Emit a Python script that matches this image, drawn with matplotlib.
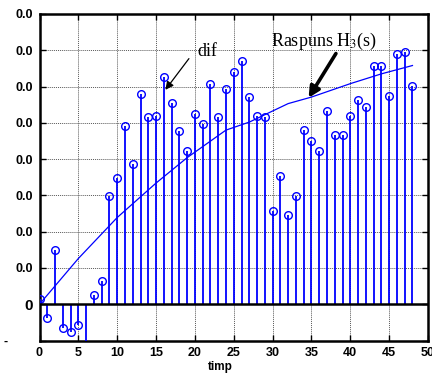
import matplotlib
matplotlib.use("Agg")
import matplotlib.pyplot as plt
from matplotlib.transforms import ScaledTranslation

# Data
k_values = list(range(49))
dif_values = [0.14, -0.38, 1.49, -0.65, -0.77, -0.58, -1.3, 0.26, 0.65, 2.97,
              3.48, 4.91, 3.87, 5.79, 5.16, 5.18, 6.25, 5.55, 4.77, 4.23,
              5.23, 4.97, 6.07, 5.16, 5.94, 6.39, 6.70, 5.70, 5.18, 5.16,
              2.57, 3.53, 2.47, 2.99, 4.81, 4.49, 4.23, 5.32, 4.66, 4.66,
              5.18, 5.64, 5.44, 6.57, 6.57, 5.73, 6.90, 6.94, 6.02]
resp_t = [0, 5, 10, 15, 19, 24, 27, 32, 35, 40, 44, 48]
resp_y = [0.0, 1.26, 2.39, 3.34, 4.04, 4.80, 5.02, 5.53, 5.71, 6.08, 6.35, 6.58]
xticks = [0, 5, 10, 15, 20, 25, 30, 35, 40, 45, 50]
yticks = [-1, 0, 1, 2, 3, 4, 5, 6, 7, 8]
ytick_labels = ["-", "0", "0.0", "0.0", "0.0", "0.0", "0.0", "0.0", "0.0", "0.0"]

fig = plt.figure(figsize=(4.32, 3.74), dpi=100)
ax = fig.add_axes([39.5/432, 1-340.5/374, (428-39.5)/432, (340.5-14)/374])

# stems
ax.vlines(k_values, 0, dif_values, color="blue", lw=1.3, zorder=3)
ax.plot(k_values, dif_values, ls="none", marker="o", ms=5.5, mfc="none",
        mec="blue", mew=1.0, zorder=4)
ax.axhline(0, color="black", lw=1.8, zorder=5)

# response curve
ax.plot(resp_t, resp_y, color="blue", lw=0.9, zorder=3)

ax.set_xlim(0, 50)
ax.set_ylim(-1, 8)
ax.set_xticks(xticks)
ax.set_xticklabels([str(t) for t in xticks])
ax.set_yticks(yticks)
ax.set_yticklabels(ytick_labels)
ax.grid(True, color="0.35", linestyle=(0, (1, 1)), lw=0.7, zorder=1)
ax.set_axisbelow(True)

ax.tick_params(direction="in", length=4, width=1, top=True, right=True,
               labelsize=9, pad=5)
for lab in ax.get_xticklabels() + ax.get_yticklabels():
    lab.set_fontweight("bold")
    lab.set_family("Liberation Sans")

ylabs = ax.get_yticklabels()
ylabs[1].set_fontsize(11)
ylabs[0].set_transform(ylabs[0].get_transform() +
                       ScaledTranslation(-18/72, 0, fig.dpi_scale_trans))

for s in ax.spines.values():
    s.set_linewidth(1.8)

fig.text(220/432, 1-367/374, "timp", ha="center", va="center",
         fontsize=8.5, fontweight="bold", family="Liberation Sans")

ax.annotate("", xy=(16.2, 5.91), xytext=(19.23, 6.77),
            arrowprops=dict(arrowstyle="-|>", color="black", lw=0.9,
                            mutation_scale=12, shrinkA=0, shrinkB=0))
ax.text(20.35, 6.83, "dif", fontsize=13, family="Liberation Serif",
        ha="left", va="baseline")
ax.annotate("", xy=(34.63, 5.69), xytext=(38.15, 6.91),
            arrowprops=dict(arrowstyle="-|>", color="black", lw=2.6,
                            mutation_scale=16, shrinkA=0, shrinkB=0))
ax.text(29.8, 7.11, "Raspuns H$_3$(s)", fontsize=13, family="Liberation Serif",
        ha="left", va="baseline", math_fontfamily="stix")

fig.savefig("out.png", dpi=100)
